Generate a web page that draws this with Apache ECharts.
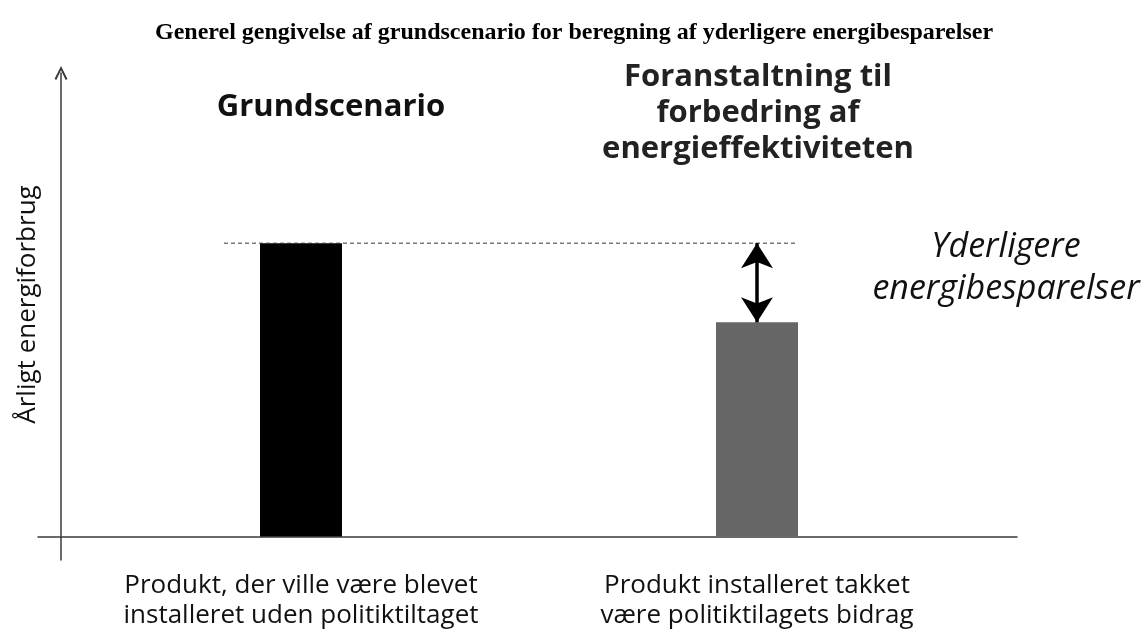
<!DOCTYPE html>
<html>
<head>
    <meta charset="utf-8">
    <title>Grundscenario</title>
    <script src="https://cdn.jsdelivr.net/npm/echarts@6/dist/echarts.min.js"></script>
    <style type="text/css">
        html,body{margin:0;padding:0;background:#fff;}
        #main{width:1148px;height:630px;}
    </style>
</head>
<body>
<div id="main"></div>
<script type="text/javascript">
    // kategorier og værdier (skematisk, grundscenario = 100)
    var categories = ['Produkt, der ville være blevet\ninstalleret uden politiktiltaget', 'Produkt installeret takket\nvære politiktilagets bidrag'];
    var values = [100, 73];
    var barColors = ['#000000', '#666666'];
    var yName = 'Årligt energiforbrug';
    var titleText = 'Generel gengivelse af grundscenario for beregning af yderligere energibesparelser';
    var noteLeft = 'Grundscenario';
    var noteRight = 'Foranstaltning til\nforbedring af\nenergieffektiviteten';
    var noteSaving = 'Yderligere\nenergibesparelser';

    var sans = '"Open Sans", sans-serif';
    var myChart = echarts.init(document.getElementById('main'));
    var option = {
        animation: false,
        title: {
            text: titleText,
            left: 'center',
            top: 16,
            textStyle: {fontFamily: '"Liberation Serif", serif', fontWeight: 'bold', fontSize: 24, color: '#000'}
        },
        grid: [
            {left: 73, right: 163, top: 73, bottom: 70, outerBoundsMode: 'none'},
            {left: 38, right: 131, top: 73, bottom: 70, outerBoundsMode: 'none'}
        ],
        xAxis: [{
            type: 'category',
            gridIndex: 0,
            data: categories,
            axisLine: {show: false, onZero: false},
            axisTick: {show: false},
            axisLabel: {fontFamily: sans, fontSize: 26, lineHeight: 30, color: '#111', margin: 11, interval: 0}
        }, {
            type: 'value',
            gridIndex: 1,
            min: -23,
            max: 956,
            axisLine: {show: true, onZero: true, lineStyle: {color: '#3a3a3a', width: 1.5}},
            axisTick: {show: false},
            axisLabel: {show: false},
            splitLine: {show: false}
        }],
        yAxis: [{
            type: 'value',
            gridIndex: 0,
            min: -8,
            max: 158,
            show: false
        }, {
            type: 'value',
            gridIndex: 1,
            min: -8,
            max: 158,
            name: yName,
            nameLocation: 'middle',
            nameRotate: 90,
            nameGap: -3,
            nameTextStyle: {fontFamily: sans, fontSize: 26, color: '#111', padding: [0, 0, 0, 24]},
            axisLine: {
                show: true, onZero: true,
                symbol: ['none', 'path://M0,10 L5,0 L10,10 L8.6,10.6 L5,3.2 L1.4,10.6 Z'],
                symbolSize: [13, 15],
                lineStyle: {color: '#3a3a3a', width: 1.5}
            },
            axisTick: {show: false},
            axisLabel: {show: false},
            splitLine: {show: false}
        }],
        series: [{
            type: 'bar',
            xAxisIndex: 0,
            yAxisIndex: 0,
            barWidth: 82,
            data: values.map(function (v, i) {
                return {value: v, itemStyle: {color: barColors[i]}};
            }),
            markLine: {
                silent: true,
                symbol: ['arrow', 'arrow'],
                symbolSize: [24, 25],
                label: {show: false},
                lineStyle: {color: '#000', width: 3.5, type: 'solid'},
                data: [[{coord: [1, values[0]]}, {coord: [1, values[1]]}]]
            }
        }],
        graphic: [{
            id: 'noteLeft', type: 'text', x: 331, y: 107,
            style: {text: noteLeft, align: 'center', verticalAlign: 'middle', font: 'bold 31px ' + sans, fill: '#111'}
        }, {
            id: 'noteRight', type: 'text', x: 758, y: 113,
            style: {text: noteRight, align: 'center', verticalAlign: 'middle', font: 'bold 31px ' + sans, lineHeight: 36, fill: '#222'}
        }, {
            id: 'noteSaving', type: 'text', x: 1006, y: 268,
            style: {text: noteSaving, align: 'center', verticalAlign: 'middle', font: 'italic 34px ' + sans, lineHeight: 42, fill: '#111'}
        }]
    };
    myChart.setOption(option);

    // stiplet linje i grundscenariets niveau, beregnet ud fra søjlernes placering
    var p0 = myChart.convertToPixel({seriesIndex: 0}, [0, values[0]]);
    var p1 = myChart.convertToPixel({seriesIndex: 0}, [1, values[0]]);
    myChart.setOption({
        graphic: [{
            id: 'baseLine', type: 'line', z: 5,
            shape: {x1: p0[0] - 77, y1: p0[1], x2: p1[0] + 41, y2: p1[1]},
            style: {stroke: '#333', lineWidth: 1, lineDash: [4, 3]}
        }]
    });
</script>
</body>
</html>
